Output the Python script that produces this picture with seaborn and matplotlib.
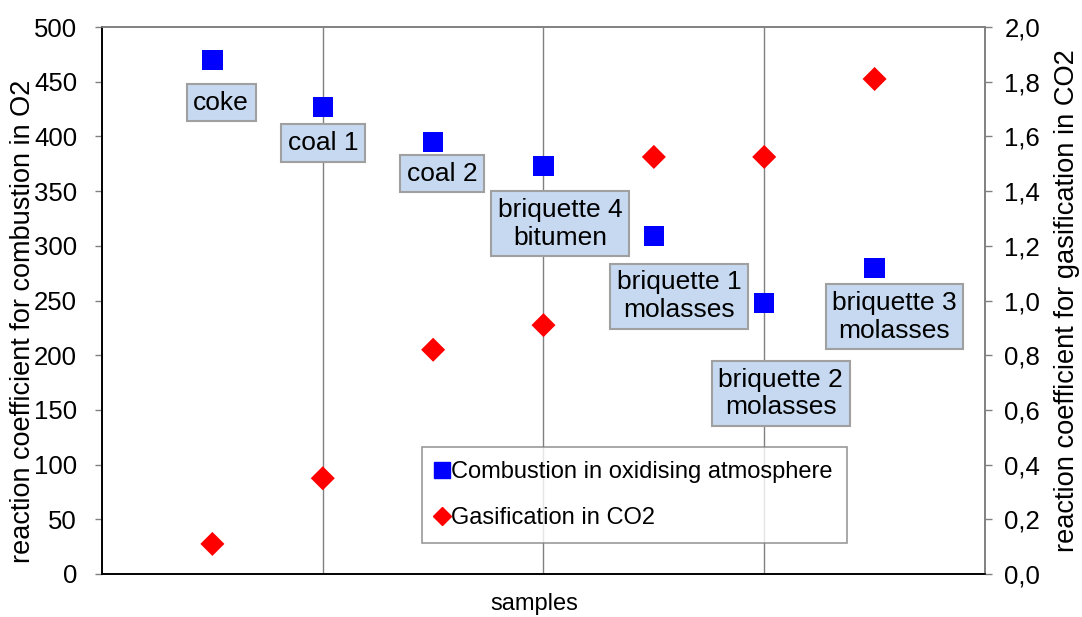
import numpy as np
import pandas as pd
import matplotlib
matplotlib.use("Agg")
import matplotlib.pyplot as plt
import seaborn as sns
from matplotlib.lines import Line2D
from matplotlib.ticker import FuncFormatter

samples = ["coke", "coal 1", "coal 2", "briquette 4\nbitumen", "briquette 1\nmolasses",
           "briquette 2\nmolasses", "briquette 3\nmolasses"]
sample_pos = [1, 2, 3, 4, 5, 6, 7]
combustion = [470, 427, 395, 373, 309, 248, 280]
gasification = [0.11, 0.35, 0.82, 0.91, 1.525, 1.525, 1.81]
# where the sample name boxes sit (data coords of left axis)
label_x = [1.08, 2.0, 3.08, 4.15, 5.23, 6.15, 7.18]
label_y = [431, 394, 366, 320, 254, 165, 235]

df = pd.DataFrame({"pos": sample_pos, "comb": combustion, "gas": gasification})

sns.set_style("white")
plt.rcParams["font.family"] = ["Liberation Sans", "DejaVu Sans"]
plt.rcParams["text.color"] = "black"
plt.rcParams["axes.labelcolor"] = "black"
plt.rcParams["xtick.color"] = "black"
plt.rcParams["ytick.color"] = "black"

fig = plt.figure(figsize=(10.82, 6.17), dpi=100)
ax = fig.add_axes([0.0943, 0.0697, 0.8160, 0.8865])
ax2 = ax.twinx()

sns.scatterplot(data=df, x="pos", y="comb", ax=ax, marker="s", s=215, color="#0000ff",
                edgecolor="none", zorder=5, legend=False)
sns.scatterplot(data=df, x="pos", y="gas", ax=ax2, marker="D", s=150, color="#ff0000",
                edgecolor="none", zorder=5, legend=False)

for name, lx, ly in zip(samples, label_x, label_y):
    ax.text(lx, ly, name, ha="center", va="center", fontsize=19, zorder=6,
            linespacing=1.2,
            bbox=dict(boxstyle="square,pad=0.25", facecolor="#c6d9f0",
                      edgecolor="#a0a0a0", linewidth=1.5))

ax.set_xlim(0, 8)
ax.set_ylim(0, 500)
ax2.set_ylim(0, 2.0)
ax.set_xticks([2, 4, 6])
ax.set_xticklabels([])
ax.tick_params(axis="x", length=0)
ax.grid(axis="x", color="#808080", linewidth=1)
ax.set_yticks(np.arange(0, 501, 50))
ax2.set_yticks(np.arange(0, 2.01, 0.2))
ax2.yaxis.set_major_formatter(FuncFormatter(lambda v, p: f"{v:.1f}".replace(".", ",")))
ax.tick_params(axis="y", labelsize=18.5, length=5, width=1, color="#808080",
               direction="out", left=True, pad=13)
ax2.tick_params(axis="y", labelsize=18.5, length=5, width=1, color="#808080",
                direction="out", right=True, pad=9)

ax.set_xlabel("samples", fontsize=17)
ax.xaxis.set_label_coords(0.49, -0.034, transform=ax.transAxes)
ax.set_ylabel("reaction coefficient for combustion in O2", fontsize=19.5)
ax.yaxis.set_label_coords(-0.075, 0.461)
ax2.set_ylabel("reaction coefficient for gasification in CO2", fontsize=19.6, labelpad=10)

for a in (ax, ax2):
    a.spines["left"].set_color("black")
    a.spines["bottom"].set_color("black")
    a.spines["top"].set_color("#808080")
    a.spines["right"].set_color("#808080")
    for s in a.spines.values():
        s.set_linewidth(1.2)

handles = [
    Line2D([], [], marker="s", color="#0000ff", linestyle="none", markersize=11,
           label="Combustion in oxidising atmosphere"),
    Line2D([], [], marker="D", color="#ff0000", linestyle="none", markersize=9,
           label="Gasification in CO2"),
]
leg = ax2.legend(handles=handles, loc="upper left", bbox_to_anchor=(0.362, 0.232),
                 fontsize=17, frameon=True, fancybox=False, handlelength=0.5,
                 handletextpad=0.15, borderpad=0.6, labelspacing=1.0, borderaxespad=0)
leg.get_frame().set_edgecolor("#808080")
leg.get_frame().set_linewidth(1.2)
leg.set_zorder(10)

fig.savefig("out.png", dpi=100)
